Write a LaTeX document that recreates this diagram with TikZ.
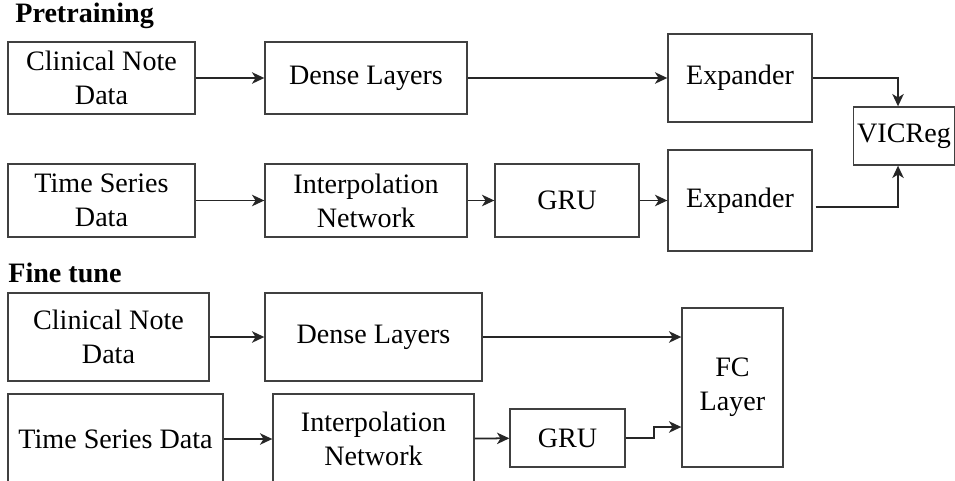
\documentclass[tikz,border=0pt]{standalone}
\usepackage{fontspec}
\setmainfont{LiberationSerif}[Extension=.ttf, UprightFont=*-Regular, BoldFont=*-Bold]
\usepackage{tikz}
\usetikzlibrary{positioning,calc,arrows.meta}

\begin{document}
\begin{tikzpicture}[x=0.02cm, y=-0.02cm,
  box/.style={draw=black!75, line width=0.8pt, align=center, inner sep=2pt,
    font=\fontsize{16}{19.4}\selectfont},
  arr/.style={draw=black!85, line width=1pt, -{Stealth[length=7pt,width=6.5pt,inset=2pt]}},
  title/.style={anchor=west, inner sep=0pt, font=\fontsize{16}{19.4}\selectfont\bfseries}]
\useasboundingbox (0,0) rectangle (955,480);

% pretraining
\begin{scope}
\node[title] (pre) at (15,16) {Pretraining};

\node[box, minimum width=3.74cm, minimum height=1.44cm] (cn1) at (101.5,78) {Clinical Note\\Data};
\node[box, minimum width=4.04cm, minimum height=1.44cm] (dense1) at (366,78) {Dense Layers};
\node[box, minimum width=2.88cm, minimum height=1.76cm] (exp1) at (740,78) {Expander};
\node[box, minimum width=2.0cm, minimum height=1.16cm] (vic) at (904,136) {VICReg};

\node[box, minimum width=3.74cm, minimum height=1.46cm] (ts1) at (101.5,200.5) {Time Series\\Data};
\node[box, minimum width=4.04cm, minimum height=1.46cm] (interp1) at (366,200.5) {Interpolation\\Network};
\node[box, minimum width=2.88cm, minimum height=1.46cm] (gru1) at (567,200.5) {GRU};
\node[box, minimum width=2.88cm, minimum height=2.02cm] (exp2) at (740,200.5) {Expander};

\coordinate (vtop) at ($(vic.north)+(-6,0)$);
\coordinate (vbot) at ($(vic.south)+(-6,0)$);
\coordinate (eout) at ($(exp2.east)+(3,6.5)$);

\foreach \a/\b in {cn1/dense1, dense1/exp1, ts1/interp1, interp1/gru1, gru1/exp2}
  \draw[arr] (\a) -- (\b);
\draw[arr] (exp1.east) -| (vtop);
\draw[arr] (eout) -| (vbot);
\end{scope}

% fine tune
\begin{scope}
\node[title] (fine) at (8,273) {Fine tune};

\node[box, minimum width=4.02cm, minimum height=1.76cm] (cn2) at (108.5,337) {Clinical Note\\Data};
\node[box, minimum width=4.34cm, minimum height=1.76cm] (dense2) at (373.5,337) {Dense Layers};
\node[box, minimum width=4.3cm, minimum height=1.8cm] (ts2) at (115.5,439) {Time Series Data};
\node[box, minimum width=4.02cm, minimum height=1.8cm] (interp2) at (373.5,439) {Interpolation\\Network};
\node[box, minimum width=2.3cm, minimum height=1.16cm] (gru2) at (567.5,438) {GRU};
\node[box, minimum width=2.02cm, minimum height=3.18cm] (fc) at (732.5,387.5) {FC\\Layer};

\coordinate (kink) at (654,427);

\foreach \a/\b in {cn2/dense2, ts2/interp2, interp2/gru2}
  \draw[arr] (\a) -- (\b);
\draw[arr] (dense2.east) -- (dense2.east -| fc.west);
\draw[arr] (gru2.east) -| (kink) -- (kink -| fc.west);
\end{scope}
\end{tikzpicture}
\end{document}
